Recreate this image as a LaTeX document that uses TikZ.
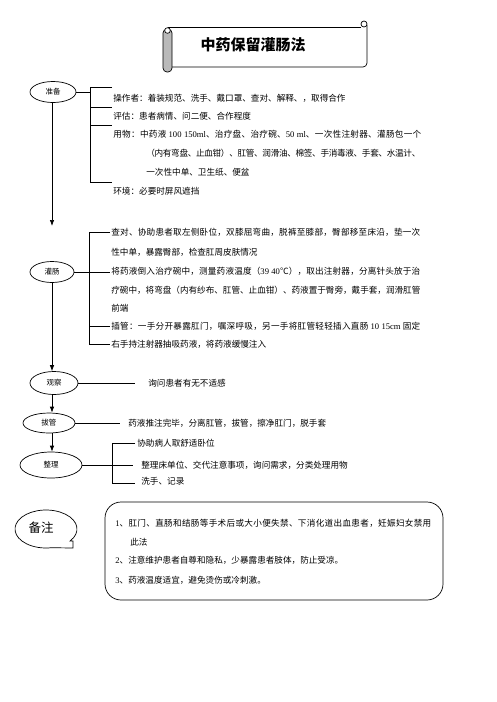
\documentclass[tikz,border=0pt]{standalone}
\usepackage{fontspec}
\setmainfont{Noto Sans CJK SC}
\newfontfamily\lat{Liberation Serif}
\usetikzlibrary{shapes.geometric,arrows.meta}
\XeTeXinterchartokenstate=1
\newXeTeXintercharclass\cjkcls
\makeatletter
\count@="3000
\loop\XeTeXcharclass\count@=\cjkcls\ifnum\count@<"9FFF\advance\count@\@ne\repeat
\count@="FF00
\loop\XeTeXcharclass\count@=\cjkcls\ifnum\count@<"FFEF\advance\count@\@ne\repeat
\makeatother
\XeTeXinterchartoks\cjkcls\cjkcls={\hskip0pt plus 1pt minus 0.5pt\relax}
\XeTeXinterchartoks\cjkcls 0={\hskip0pt plus 1pt minus 0.5pt\relax}
\XeTeXinterchartoks 0\cjkcls={\hskip0pt plus 1pt minus 0.5pt\relax}
\begin{document}
\begin{tikzpicture}[x=1pt,y=1pt,line width=0.7pt,
  txt/.style={anchor=west,inner sep=0pt,font=\fontsize{8.6}{10}\selectfont},
  oval/.style={draw,ellipse,inner sep=0pt,font=\fontsize{7.5}{9}\selectfont},
  arr/.style={-{Latex[length=6pt,width=4.5pt]}}]
\useasboundingbox (0,0) rectangle (496,-702);
% title scroll
\draw (168,-27) -- (361,-27);
\draw (364,-24) circle (3pt);
\draw[rounded corners=4pt] (367,-25) -- (367,-67) -- (172,-67);
\draw[fill=gray!55,rounded corners=4pt] (163,-29) rectangle (172,-72);
\draw[fill=white] (167.5,-30.5) circle (2.8pt);
\node[font=\fontsize{15}{17}\selectfont\bfseries] (title) at (253,-45) {中药保留灌肠法};
\coordinate (vx) at (52,0);
% zhunbei
\node[oval,minimum width=46pt,minimum height=21pt] (zb) at (53,-92) {准备};
\draw (zb.east) -- (90,-92);
\draw (112,-87) -- (90,-87) -- (90,-182) -- (112,-182);
\draw (90,-107) -- (112,-107);
\draw (90,-125) -- (112,-125);
\node[txt] (t1) at (113,-98) {操作者：着装规范、洗手、戴口罩、查对、解释、，取得合作};
\node[txt] (t2) at (113,-116) {评估：患者病情、问二便、合作程度};
\node[txt] (t3) at (113,-134) {\makebox[308pt][s]{用物：中药液 {\lat 100 150ml}、治疗盘、治疗碗、{\lat 50 ml}、一次性注射器、灌肠包一个}};
\node[txt] (t4) at (146,-153) {\makebox[274pt][s]{（内有弯盘、止血钳）、肛管、润滑油、棉签、手消毒液、手套、水温计、}};
\node[txt] (t5) at (146,-172) {一次性中单、卫生纸、便盆};
\node[txt] (t6) at (113,-191) {环境：必要时屏风遮挡};
\coordinate (a1) at (vx |- 0,-226);
\draw[arr] (vx |- zb.south) -- (a1);
% guanchang
\node[oval,minimum width=44pt,minimum height=21pt] (gc) at (52,-272) {灌肠};
\draw (gc.east) -- (110,-272);
\draw (110,-232) -- (89,-232) -- (89,-344) -- (110,-344);
\draw (89,-326) -- (110,-326);
\node[txt] (g1) at (111,-232) {\makebox[309pt][s]{查对、协助患者取左侧卧位，双膝屈弯曲，脱裤至膝部，臀部移至床沿，垫一次}};
\node[txt] (g2) at (111,-252) {性中单，暴露臀部，检查肛周皮肤情况};
\node[txt] (g3) at (111,-271) {\makebox[309pt][s]{将药液倒入治疗碗中，测量药液温度（{\lat 39 40}℃），取出注射器，分离针头放于治}};
\node[txt] (g4) at (111,-290) {\makebox[309pt][s]{疗碗中，将弯盘（内有纱布、肛管、止血钳）、药液置于臀旁，戴手套，润滑肛管}};
\node[txt] (g5) at (111,-308) {前端};
\node[txt] (g6) at (111,-326) {\makebox[309pt][s]{插管：一手分开暴露肛门，嘱深呼吸，另一手将肛管轻轻插入直肠 {\lat 10 15cm} 固定}};
\node[txt] (g7) at (111,-344) {右手持注射器抽吸药液，将药液缓慢注入};
% guancha
\node[oval,minimum width=48pt,minimum height=23pt] (gu) at (54,-383) {观察};
\draw[arr] (vx |- gc.south) -- (vx |- gu.north);
\coordinate (gu1) at (135,-383);
\draw (gu.east) -- (gu1);
\node[txt] (gut) at (148,-383) {询问患者有无不适感};
% baguan
\node[oval,minimum width=52pt,minimum height=20pt] (bg) at (49,-423) {拔管};
\draw[arr] (vx |- gu.south) -- (vx |- bg.north);
\coordinate (bg1) at (120,-423);
\draw (bg.east) -- (bg1);
\node[txt] (bgt) at (128,-423) {药液推注完毕，分离肛管，拔管，擦净肛门，脱手套};
% zhengli
\node[oval,minimum width=62pt,minimum height=26pt] (zl) at (51,-465) {整理};
\draw[arr] (vx |- bg.south) -- (vx |- zl.north);
\draw (135,-443) -- (112,-443) -- (112,-483) -- (135,-483);
\draw (zl.east) -- (133,-465);
\node[txt] (z1) at (137,-443) {协助病人取舒适卧位};
\node[txt] (z2) at (141,-465) {整理床单位、交代注意事项，询问需求，分类处理用物};
\node[txt] (z3) at (141,-481) {洗手、记录};
% beizhu callout
\draw (70.09,-540.96) arc[start angle=-39,end angle=280,x radius=31pt,y radius=19pt] -- (73,-548) -- (73,-541) -- cycle;
\node[font=\fontsize{12.5}{14}\selectfont,inner sep=0pt] (bz) at (41,-528) {备注};
% notes box
\node[draw,rounded corners=16pt,minimum width=338pt,minimum height=98pt,inner sep=0pt] (nb) at (274,-551) {};
\node[txt] (n1) at (115,-523) {\makebox[316pt][s]{{\lat 1}、肛门、直肠和结肠等手术后或大小便失禁、下消化道出血患者，妊娠妇女禁用}};
\node[txt] (n1b) at (130,-542) {此法};
\node[txt] (n2) at (115,-560) {{\lat 2}、注意维护患者自尊和隐私，少暴露患者肢体，防止受凉。};
\node[txt] (n3) at (115,-580) {{\lat 3}、药液温度适宜，避免烫伤或冷刺激。};
\end{tikzpicture}
\end{document}
